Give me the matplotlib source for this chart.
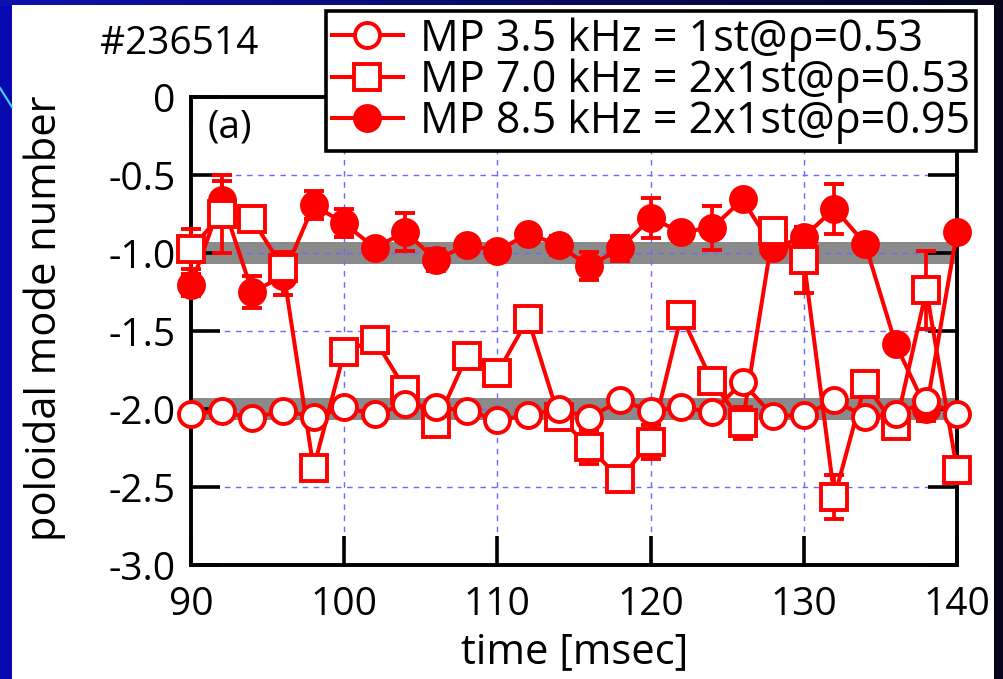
import numpy as np
import matplotlib
matplotlib.use("Agg")
import matplotlib.pyplot as plt
from matplotlib.lines import Line2D
from matplotlib.patches import Rectangle

plt.rcParams['font.family'] = ['Open Sans', 'DejaVu Sans']

# ---------------- data ----------------
time = [90, 92, 94, 96, 98, 100, 102, 104, 106, 108, 110, 112, 114,
        116, 118, 120, 122, 124, 126, 128, 130, 132, 134, 136, 138, 140]

mp35 = [-2.03, -2.015, -2.06, -2.01, -2.05, -1.99, -2.035, -1.97, -1.99, -2.01,
        -2.07, -2.04, -2.00, -2.055, -1.945, -2.01, -1.99, -2.02, -1.83, -2.045,
        -2.04, -1.945, -2.05, -2.035, -1.95, -2.03]
err35 = [0.03] * 26

mp70 = [-0.975, -0.75, -0.785, -1.095, -2.38, -1.635, -1.555, -1.876, -2.095, -1.66,
        -1.77, -1.42, -2.05, -2.245, -2.45, -2.21, -1.40, -1.82, -2.09, -0.86,
        -1.046, -2.565, -1.84, -2.11, -1.24, -2.39]
err70 = [0.13, 0.25, 0.04, 0.10, 0.05, 0.04, 0.05, 0.05, 0.04, 0.05, 0.04, 0.04, 0.05,
         0.11, 0.05, 0.11, 0.03, 0.05, 0.10, 0.07, 0.21, 0.14, 0.04, 0.06, 0.25, 0.06]

mp85 = [-1.207, -0.66, -1.25, -1.15, -0.693, -0.81, -0.967, -0.864, -1.046, -0.946,
        -0.988, -0.875, -0.95, -1.085, -0.971, -0.777, -0.864, -0.84, -0.657, -0.97,
        -0.897, -0.715, -0.94, -1.585, -2.0, -0.864]
err85 = [0.07, 0.12, 0.10, 0.12, 0.09, 0.09, 0.03, 0.12, 0.07, 0.05, 0.05, 0.03, 0.06,
         0.09, 0.08, 0.13, 0.03, 0.14, 0.05, 0.05, 0.04, 0.16, 0.03, 0.05, 0.08, 0.03]

labels = ["MP 3.5 kHz = 1st@ρ=0.53",
          "MP 7.0 kHz = 2x1st@ρ=0.53",
          "MP 8.5 kHz = 2x1st@ρ=0.95"]

bands = [-1.0, -2.0]
band_half = 0.07

yticks = [0, -0.5, -1.0, -1.5, -2.0, -2.5, -3.0]
yticklabels = ["0", "-0.5", "-1.0", "-1.5", "-2.0", "-2.5", "-3.0"]
xticks = [90, 100, 110, 120, 130, 140]

# ---------------- figure / background ----------------
W, H = 1004, 679
fig = plt.figure(figsize=(W / 100, H / 100), dpi=100)
fig.patch.set_facecolor('#0808b0')

bg = fig.add_axes([0, 1 - 6 / H, 1, 6 / H], zorder=-5)
grad = np.linspace(0, 1, 256)[None, :, None]
c0 = np.array([0x10, 0x10, 0xb0]) / 255
c1 = np.array([0x05, 0x05, 0x20]) / 255
bg.imshow(c0 * (1 - grad) + c1 * grad, aspect='auto', extent=[0, 1, 0, 1])
bg.axis('off')

fig.patches.append(Rectangle((994 / W, 0), 10 / W, 1, transform=fig.transFigure,
                             facecolor='#05051c', edgecolor='none', zorder=-4))
fig.patches.append(Rectangle((12 / W, 0), 982 / W, 1 - 5 / H, transform=fig.transFigure,
                             facecolor='white', edgecolor='none', zorder=-3))
fig.lines.append(Line2D([0, 12 / W], [1 - 88 / H, 1 - 107 / H], transform=fig.transFigure,
                        color='#40d8ff', lw=1.5))

# ---------------- axes ----------------
ax = fig.add_axes([191 / W, 1 - 565 / H, 766 / W, 468 / H])
ax.set_facecolor('white')
ax.set_xlim(90, 140)
ax.set_ylim(-3.0, 0)

for b in bands:
    ax.axhspan(b - band_half, b + band_half, color='#8a8a8a', lw=0, zorder=0.3)

ax.set_axisbelow(True)
ax.grid(True, color='#6a6aff', lw=1.0, linestyle=(0, (4, 4)))

red = '#ff0000'
common = dict(color=red, lw=2.9, elinewidth=2.7, capsize=7.5, capthick=2.7,
              markersize=18, markeredgewidth=2.8, markeredgecolor=red)

c85 = ax.errorbar(time, mp85, yerr=err85, fmt='-o', markerfacecolor=red,
                  zorder=3, **common)
c70 = ax.errorbar(time, mp70, yerr=err70, fmt='-s', markerfacecolor='white',
                  zorder=4, **{**common, 'markersize': 19})
c35 = ax.errorbar(time, mp35, yerr=err35, fmt='-o', markerfacecolor='white',
                  zorder=5, **common)
for c in (c85, c70, c35):
    for art in c.get_children():
        art.set_clip_on(False)

ax.set_xticks(xticks)
ax.set_yticks(yticks)
ax.set_yticklabels(yticklabels)
ax.tick_params(axis='both', which='major', direction='in', length=21, width=2.6,
               top=True, right=True, labelsize=28, color='black')
ax.tick_params(axis='y', pad=11)
ax.tick_params(axis='x', pad=15)
for s in ax.spines.values():
    s.set_linewidth(2.8)

ax.set_ylabel('poloidal mode number', fontsize=30)
ax.yaxis.label.set_va('center')
ax.yaxis.set_label_coords((45 - 191) / 766, (565 - 318) / 468)
ax.set_xlabel('time [msec]', fontsize=30)
ax.xaxis.label.set_va('center')
ax.xaxis.set_label_coords((575 - 191) / 766, (565 - 652) / 468)

ax.text(0.022, 0.934, '(a)', transform=ax.transAxes, fontsize=28,
        ha='left', va='center')
fig.text(100 / W, 1 - 44 / H, '#236514', fontsize=28, ha='left', va='center')

leg = ax.legend([c35.lines[0], c70.lines[0], c85.lines[0]], labels,
                loc='upper right', bbox_to_anchor=(976 / W, 1 - 11 / H),
                bbox_transform=fig.transFigure, borderaxespad=0,
                fontsize=31, frameon=True, fancybox=False, framealpha=1,
                edgecolor='black', handlelength=1.65, handletextpad=0.4,
                borderpad=0.14, labelspacing=-0.07)
leg.get_frame().set_linewidth(2.6)
leg.set_zorder(10)

fig.savefig('out.png', dpi=100, facecolor=fig.get_facecolor())
